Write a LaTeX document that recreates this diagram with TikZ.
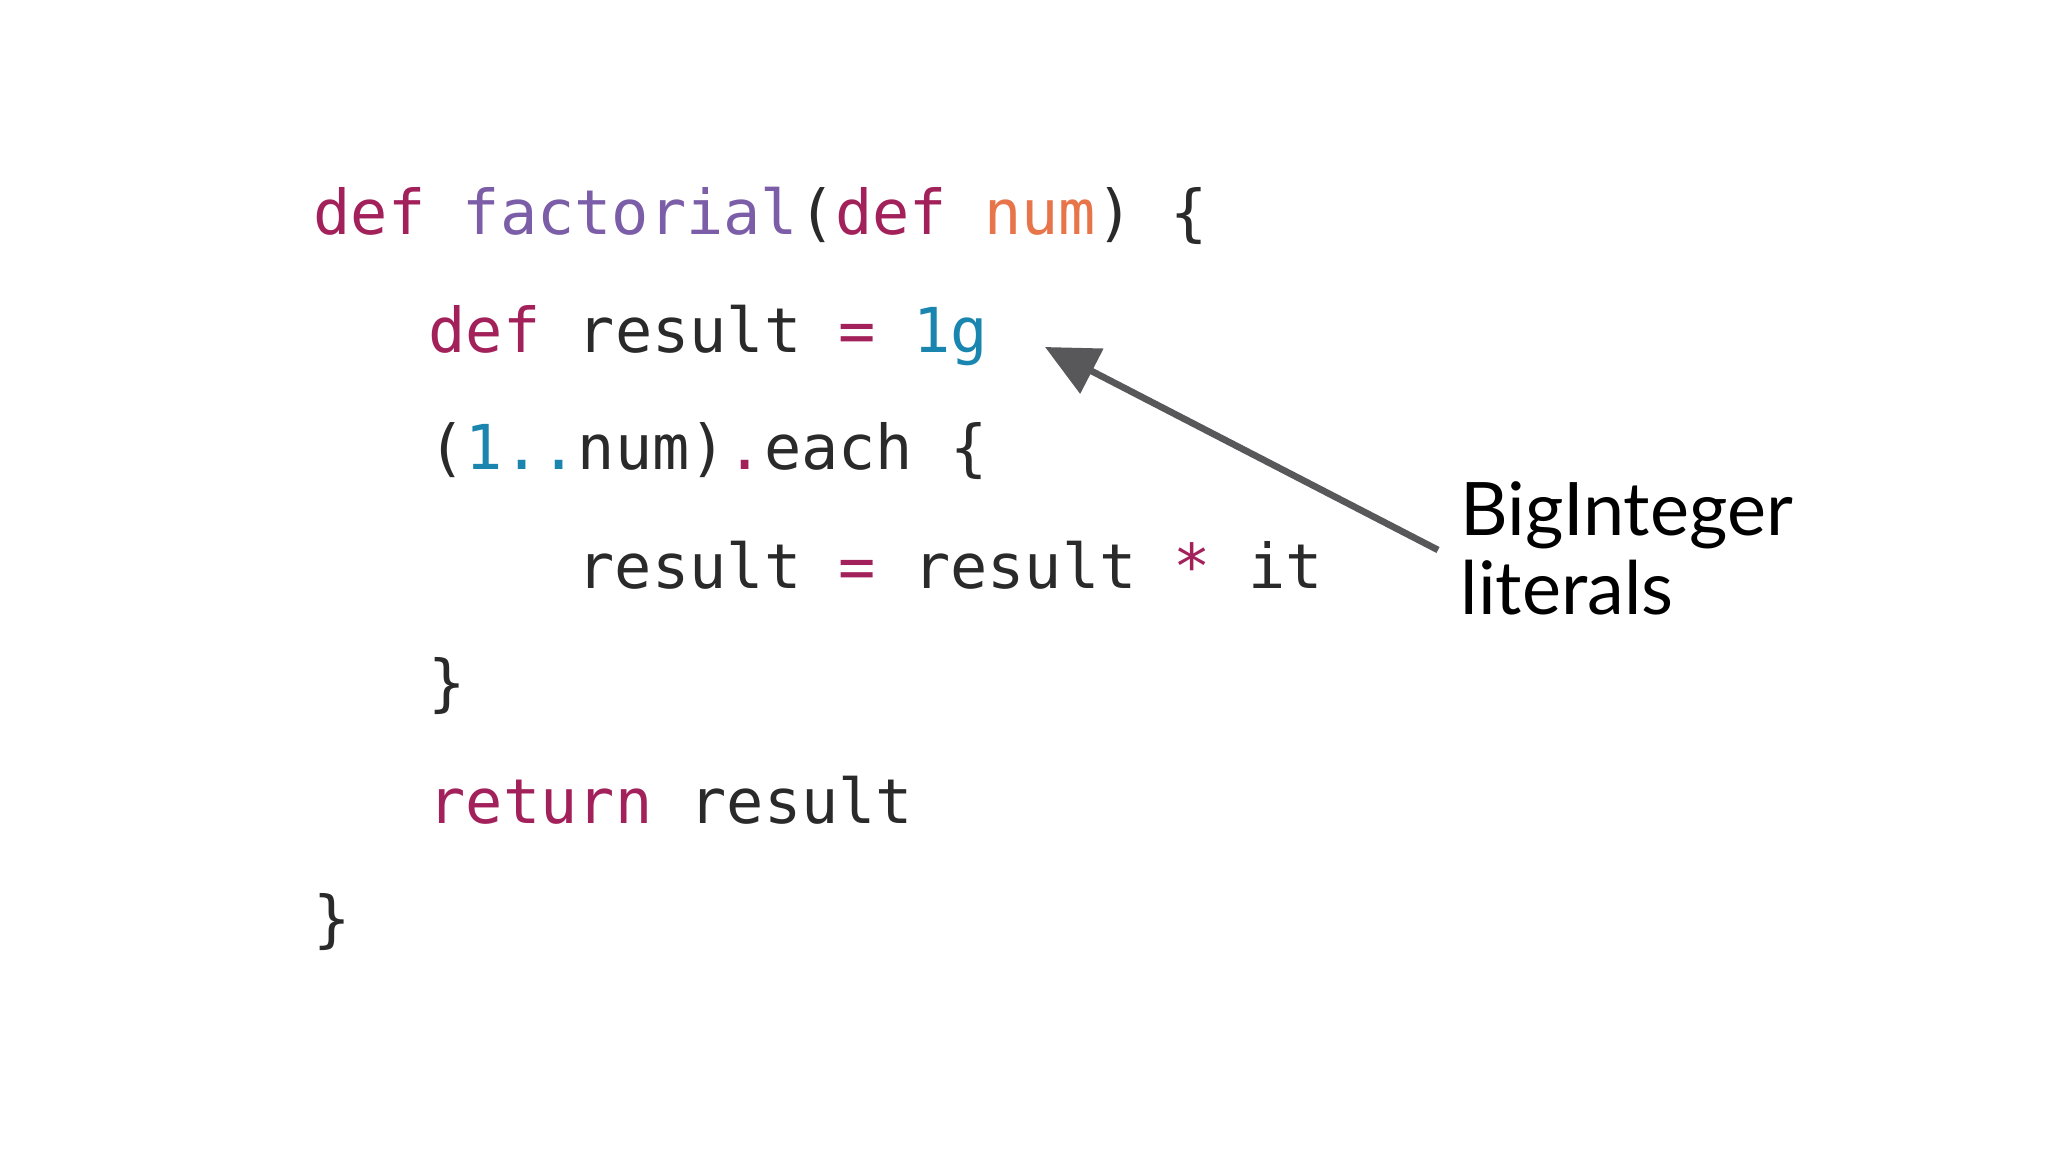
\documentclass[tikz,border=0pt]{standalone}
\usepackage{fontspec}
\newfontfamily\codefont{DejaVu Sans Mono}
\newfontfamily\labfont{Lato}
\usetikzlibrary{arrows.meta}
\definecolor{kw}{HTML}{A3215A}
\definecolor{fn}{HTML}{7B5EA7}
\definecolor{par}{HTML}{E8744A}
\definecolor{lit}{HTML}{1A86B0}
\definecolor{txt}{HTML}{2A2A2A}
\definecolor{arr}{HTML}{58585A}
\begin{document}
\begin{tikzpicture}[x=0.01cm,y=-0.01cm,
  code/.style={anchor=base west,inner sep=0pt,text=txt,font=\codefont\fontsize{17.6pt}{20pt}\selectfont},
  lab/.style={anchor=base west,inner sep=0pt,text=black,align=left,font=\labfont\fontsize{21pt}{22.2pt}\selectfont}]
\fill[white] (0,0) rectangle (2048,1152);
\useasboundingbox (0,0) rectangle (2048,1152);
\node[code] (l1) at (313,235) {\textcolor{kw}{def} \textcolor{fn}{factorial}(\textcolor{kw}{def} \textcolor{par}{num}) \{};
\node[code] (l2) at (428,353) {\textcolor{kw}{def} result \textcolor{kw}{=} \textcolor{lit}{1g}};
\node[code] (l3) at (428,470) {(\textcolor{lit}{1..}num)\textcolor{kw}{.}each \{};
\node[code] (l4) at (577,588) {result \textcolor{kw}{=} result \textcolor{kw}{*} it};
\node[code] (l5) at (428,705) {\}};
\node[code] (l6) at (428,823) {\textcolor{kw}{return} result};
\node[code] (l7) at (313,940) {\}};
\node[lab] (lab) at (1460,614) {BigInteger\\literals};
\coordinate (tail) at (1438,550);
\coordinate (tip) at (1045,347);
\draw[arr,line width=1.9pt,-{Triangle[length=15pt,width=14pt]}] (tail) -- (tip);
\end{tikzpicture}
\end{document}
